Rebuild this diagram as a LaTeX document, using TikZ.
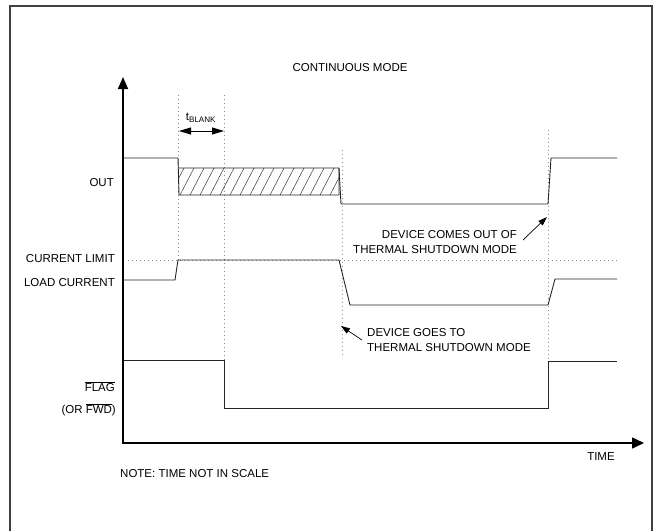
\documentclass[tikz,border=0pt]{standalone}
\usepackage{fontspec}
\setmainfont{Liberation Sans}
\usetikzlibrary{arrows.meta, positioning}

\begin{document}
\begin{tikzpicture}[
    x=1pt, y=-1pt,
    lbl/.style={inner sep=0pt, font=\fontsize{11.5}{15}\selectfont},
    frame/.style={line width=1.5pt, draw=black!75},
    axis/.style={line width=1.6pt, {Triangle[length=12pt, width=10pt]}-{Triangle[length=12pt, width=11pt]}},
    sig/.style={line width=0.9pt, draw=black!85},
    guide/.style={line width=0.8pt, draw=black!45, dash pattern=on 0.8pt off 3.2pt},
    hatch/.style={line width=0.5pt, draw=black!80},
    span/.style={line width=0.9pt, {Triangle[length=12pt, width=7pt]}-{Triangle[length=12pt, width=7pt]}},
    arrow/.style={line width=0.7pt, -{Triangle[length=9pt, width=6pt]}}
]
    \useasboundingbox (0,0) rectangle (656,531);
    \draw[frame] (10,531) -- (10,6) -- (652,6) -- (652,531);

    \node[lbl] (title) at (350,68) {CONTINUOUS MODE};
    \node[lbl, anchor=east] (out) at (114,183) {OUT};
    \node[lbl, anchor=east] (climit) at (115,259) {CURRENT LIMIT};
    \node[lbl, below=24pt of climit.east, anchor=east] (lcur) {LOAD CURRENT};
    \node[lbl, anchor=east] (flag) at (115,387) {$\overline{\mbox{FLAG}}$};
    \node[lbl, anchor=east] (orfwd) at (116,410) {(OR $\overline{\mbox{FWD}}$)};
    \node[lbl] (time) at (601,457) {TIME};
    \node[lbl, anchor=west] (note) at (120,474) {NOTE: TIME NOT IN SCALE};
    \node[lbl] (tblank) at (201,118) {t\textsubscript{BLANK}};
    \node[lbl, anchor=east, align=right] (comes) at (517,242) {DEVICE COMES OUT OF\\THERMAL SHUTDOWN MODE};
    \node[lbl, anchor=west, align=left] (goes) at (367,340) {DEVICE GOES TO\\THERMAL SHUTDOWN MODE};

    \coordinate (origin) at (123,443);
    \coordinate (ytip) at (123,77);
    \coordinate (xtip) at (644,443);
    \coordinate (blankA) at (179,131);
    \coordinate (blankB) at (224,131);
    \coordinate (tsdOff) at (547,217);
    \coordinate (tsdOn) at (341,326);

    \draw[guide] (178.5,95) -- (178.5,260);
    \draw[guide] (224,95) -- (224,360);
    \draw[guide] (342,150) -- (342,358);
    \draw[guide] (548,130) -- (548,360);
    \draw[guide] (128,260) -- (617,260);

    \begin{scope}
        \clip (179,168) rectangle (339,195);
        \foreach \x in {160,170,...,340}
            \draw[hatch] (\x,195) -- (\x+14,168);
    \end{scope}
    \draw[sig] (123,158) -- (178,158) -- (179,195) -- (339,195) -- (339,168) -- (179,168);
    \draw[sig] (339,168) -- (341,204) -- (548,204) -- (551,158) -- (617,158);
    \draw[sig] (123,280) -- (175,280) -- (178,260) -- (339,260) -- (350,305) -- (548,305) -- (555,279) -- (617,279);
    \draw[sig] (123,360) -- (224,360) -- (224,408) -- (548,408) -- (548,361) -- (617,361);

    \draw[axis] (ytip) -- (origin) -- (xtip);
    \draw[span] (blankA) -- (blankB);
    \draw[arrow] ([xshift=6pt, yshift=2pt]comes.east) -- (tsdOff);
    \draw[arrow] ([xshift=-5pt]goes.west) -- (tsdOn);
\end{tikzpicture}
\end{document}
